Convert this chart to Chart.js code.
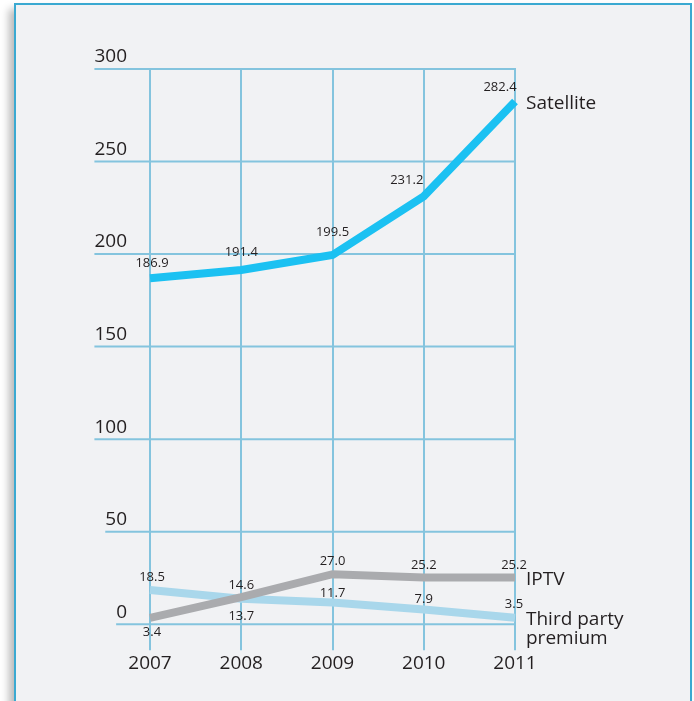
<!DOCTYPE html>
<html>
<head>
<meta charset="utf-8">
<script src="https://cdn.jsdelivr.net/npm/chart.js@4.4.0/dist/chart.umd.min.js"></script>
<style>
  html, body { margin: 0; padding: 0; background: #ffffff; }
  body { width: 694px; height: 701px; position: relative; overflow: hidden; }
  #frame {
    position: absolute; left: 14px; top: 3px; width: 674px; height: 720px;
    background: #f1f2f4; border: 2px solid #3aa9d1; border-bottom: none;
    box-shadow: -5px 6px 8px rgba(0,0,0,0.28);
  }
  #wrap { position: absolute; left: 0; top: 0; width: 694px; height: 701px; }
</style>
</head>
<body>
<div id="frame"></div>
<div id="wrap"><canvas id="c" width="694" height="701"></canvas></div>
<script>
const years = ["2007", "2008", "2009", "2010", "2011"];
const yTicks = [0, 50, 100, 150, 200, 250, 300];
const satellite = [186.9, 191.4, 199.5, 231.2, 282.4];
const iptv = [3.4, 14.6, 27.0, 25.2, 25.2];
const thirdParty = [18.5, 13.7, 11.7, 7.9, 3.5];
const seriesNames = ["Satellite", "IPTV", ["Third party", "premium"]];

// label offsets (style only) relative to each point: [dx, dy]
const satOff = [[2,-15],[0,-18],[0,-23],[-17,-16],[-15,-14]];
const iptvOff = [[2,14],[0,-12],[0,-13],[0,-12],[-1,-12]];
const tpOff = [[2,-13],[0,17],[0,-9],[0,-10],[-1,-13]];

const FONT = "'Open Sans', 'Noto Sans', sans-serif";
const TEXT = "#231f20";
const GRID = "#84c4de";

const overlay = {
  id: 'overlay',
  beforeDatasetsDraw(chart) {
    const ctx = chart.ctx, y = chart.scales.y, area = chart.chartArea;
    ctx.save();
    ctx.font = "19px " + FONT;
    ctx.fillStyle = TEXT;
    ctx.textAlign = 'right';
    ctx.textBaseline = 'middle';
    const rightX = 127;
    yTicks.forEach(v => {
      const py = y.getPixelForValue(v);
      const label = String(v);
      const w = ctx.measureText(label).width;
      ctx.strokeStyle = GRID;
      ctx.lineWidth = 2;
      ctx.beginPath();
      ctx.moveTo(rightX - w, py);
      ctx.lineTo(area.right + 1, py);
      ctx.stroke();
      ctx.fillText(label, rightX, py - 12);
    });
    ctx.restore();
  },
  afterDatasetsDraw(chart) {
    const ctx = chart.ctx;
    ctx.save();
    ctx.fillStyle = TEXT;
    ctx.font = "13px " + FONT;
    ctx.textAlign = 'center';
    ctx.textBaseline = 'middle';
    const offs = [satOff, iptvOff, tpOff];
    chart.data.datasets.forEach((ds, i) => {
      const meta = chart.getDatasetMeta(i);
      meta.data.forEach((pt, j) => {
        const o = offs[i][j];
        ctx.fillText(ds.data[j].toFixed(1), pt.x + o[0], pt.y + o[1]);
      });
    });
    ctx.font = "19px " + FONT;
    ctx.textAlign = 'left';
    const x = chart.chartArea.right + 11;
    const s = chart.getDatasetMeta(0).data[4];
    ctx.fillText(seriesNames[0], x, s.y + 2);
    const ip = chart.getDatasetMeta(1).data[4];
    ctx.fillText(seriesNames[1], x, ip.y + 2);
    const tp = chart.getDatasetMeta(2).data[4];
    ctx.fillText(seriesNames[2][0], x, tp.y + 2);
    ctx.fillText(seriesNames[2][1], x, tp.y + 21);
    ctx.restore();
  }
};

new Chart(document.getElementById('c'), {
  type: 'line',
  data: {
    labels: years,
    datasets: [
      { label: 'Satellite', data: satellite, borderColor: '#1bc1f2', borderWidth: 8, order: 0 },
      { label: 'IPTV', data: iptv, borderColor: '#aaabae', borderWidth: 8, order: 1 },
      { label: 'Third party premium', data: thirdParty, borderColor: '#a9d7eb', borderWidth: 8, order: 2 }
    ]
  },
  options: {
    responsive: false,
    animation: false,
    devicePixelRatio: 1,
    layout: { padding: { left: 150, right: 179, top: 69, bottom: 24 } },
    elements: {
      point: { radius: 0, hoverRadius: 0 },
      line: { tension: 0, borderCapStyle: 'butt', borderJoinStyle: 'miter', fill: false }
    },
    plugins: { legend: { display: false }, tooltip: { enabled: false } },
    scales: {
      x: {
        offset: false,
        border: { display: false },
        grid: { color: GRID, lineWidth: 2, tickLength: 26, drawOnChartArea: true },
        ticks: { color: TEXT, font: { family: FONT, size: 19 }, padding: 2, maxRotation: 0 }
      },
      y: { display: false, min: 0, max: 300 }
    }
  },
  plugins: [overlay]
});
</script>
</body>
</html>
